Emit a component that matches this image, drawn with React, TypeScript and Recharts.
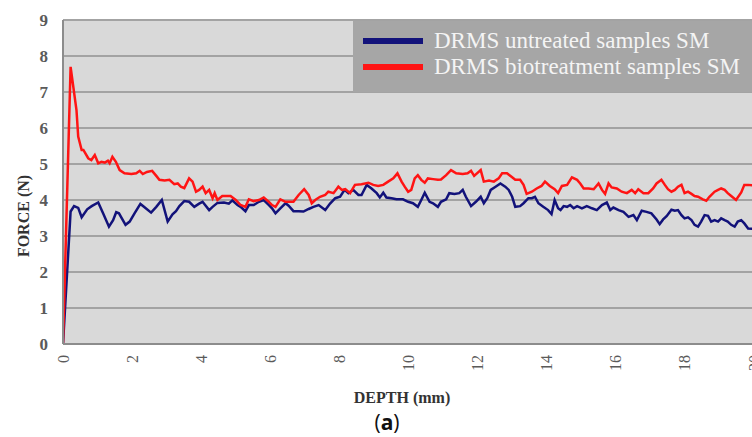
import { LineChart, Line, XAxis, YAxis, CartesianGrid } from 'recharts';

// series names (legend order)
const seriesNames = ['DRMS untreated samples SM', 'DRMS biotreatment samples SM'];
const seriesColors = ['#12127a', '#ff1414'];

const yTicks = [0, 1, 2, 3, 4, 5, 6, 7, 8, 9];
const xTicks = [0, 2, 4, 6, 8, 10, 12, 14, 16, 18, 20];

// untreated samples: depth (mm) / force (N)
const depthUntreated = [
  0, 0.22, 0.32, 0.44, 0.54, 0.7, 0.83, 1.02, 1.16, 1.33,
  1.45, 1.54, 1.62, 1.81, 1.93, 2.07, 2.24, 2.36, 2.55, 2.7,
  2.86, 3.03, 3.17, 3.27, 3.37, 3.51, 3.65, 3.8, 3.94, 4.04,
  4.23, 4.33, 4.47, 4.66, 4.8, 4.9, 5.05, 5.14, 5.28, 5.38,
  5.52, 5.67, 5.81, 5.96, 6.05, 6.15, 6.29, 6.44, 6.53, 6.67,
  6.82, 6.96, 7.11, 7.25, 7.4, 7.59, 7.73, 7.88, 8.02, 8.15,
  8.26, 8.4, 8.55, 8.64, 8.79, 8.93, 9.08, 9.17, 9.27, 9.36,
  9.51, 9.65, 9.84, 9.99, 10.13, 10.27, 10.37, 10.47, 10.61, 10.71,
  10.85, 10.94, 11.09, 11.18, 11.33, 11.47, 11.57, 11.66, 11.81, 11.95,
  12.09, 12.18, 12.28, 12.38, 12.52, 12.66, 12.8, 12.9, 13.0, 13.09,
  13.23, 13.33, 13.47, 13.57, 13.66, 13.76, 13.9, 14.04, 14.14, 14.23,
  14.33, 14.4, 14.49, 14.59, 14.68, 14.78, 14.88, 15.02, 15.16, 15.31,
  15.45, 15.6, 15.74, 15.84, 15.93, 16.08, 16.22, 16.37, 16.51, 16.61,
  16.75, 16.89, 17.03, 17.18, 17.27, 17.37, 17.47, 17.61, 17.71, 17.8,
  17.9, 17.99, 18.09, 18.19, 18.28, 18.38, 18.47, 18.57, 18.67, 18.76,
  18.86, 18.96, 19.05, 19.15, 19.24, 19.34, 19.44, 19.53, 19.63, 19.72,
  19.83, 20,
];
const forceUntreated = [
  0, 3.68, 3.83, 3.78, 3.52, 3.74, 3.83, 3.93, 3.63, 3.26,
  3.44, 3.66, 3.63, 3.31, 3.4, 3.63, 3.89, 3.8, 3.65, 3.81,
  4.0, 3.4, 3.6, 3.69, 3.83, 3.97, 3.95, 3.81, 3.9, 3.95,
  3.72, 3.81, 3.92, 3.93, 3.9, 3.99, 3.86, 3.81, 3.69, 3.86,
  3.86, 3.95, 4.0, 3.86, 3.77, 3.63, 3.77, 3.91, 3.84, 3.69,
  3.69, 3.68, 3.75, 3.81, 3.86, 3.72, 3.9, 4.05, 4.09, 4.28,
  4.19, 4.28, 4.14, 4.14, 4.42, 4.32, 4.19, 4.07, 4.2, 4.07,
  4.05, 4.02, 4.02, 3.95, 3.91, 3.81, 4.0, 4.2, 3.95, 3.91,
  3.81, 3.95, 4.02, 4.19, 4.17, 4.19, 4.28, 4.09, 3.83, 3.95,
  4.09, 3.91, 4.05, 4.28, 4.37, 4.46, 4.37, 4.28, 4.09, 3.81,
  3.83, 3.91, 4.05, 4.05, 4.09, 3.91, 3.81, 3.72, 3.61, 4.0,
  3.77, 3.72, 3.83, 3.81, 3.86, 3.77, 3.83, 3.77, 3.83, 3.77,
  3.72, 3.86, 3.93, 3.72, 3.79, 3.72, 3.67, 3.53, 3.58, 3.44,
  3.7, 3.67, 3.63, 3.46, 3.33, 3.46, 3.55, 3.73, 3.7, 3.72,
  3.58, 3.49, 3.52, 3.44, 3.31, 3.26, 3.4, 3.58, 3.56, 3.4,
  3.44, 3.4, 3.49, 3.44, 3.4, 3.31, 3.26, 3.4, 3.44, 3.35,
  3.21, 3.2,
];

// biotreatment samples: depth (mm) / force (N)
const depthBio = [
  0, 0.22, 0.39, 0.44, 0.54, 0.59, 0.73, 0.82, 0.92, 1.02,
  1.11, 1.21, 1.3, 1.35, 1.43, 1.53, 1.64, 1.78, 1.98, 2.12,
  2.22, 2.31, 2.43, 2.58, 2.7, 2.79, 2.94, 3.08, 3.22, 3.32,
  3.41, 3.51, 3.65, 3.75, 3.85, 3.94, 4.04, 4.13, 4.23, 4.33,
  4.39, 4.47, 4.61, 4.85, 5.0, 5.14, 5.28, 5.38, 5.52, 5.67,
  5.81, 5.96, 6.05, 6.15, 6.29, 6.44, 6.53, 6.67, 6.82, 6.98,
  7.11, 7.2, 7.3, 7.44, 7.59, 7.68, 7.83, 7.97, 8.07, 8.17,
  8.31, 8.45, 8.64, 8.84, 8.98, 9.12, 9.27, 9.41, 9.56, 9.68,
  9.8, 9.89, 9.99, 10.08, 10.18, 10.27, 10.37, 10.47, 10.56, 10.71,
  10.85, 10.94, 11.09, 11.23, 11.38, 11.57, 11.71, 11.81, 11.9, 12.09,
  12.18, 12.33, 12.47, 12.61, 12.71, 12.85, 13.0, 13.09, 13.23, 13.33,
  13.42, 13.57, 13.71, 13.85, 13.95, 14.09, 14.23, 14.33, 14.44, 14.59,
  14.73, 14.88, 14.97, 15.07, 15.21, 15.36, 15.5, 15.6, 15.69, 15.79,
  15.88, 16.03, 16.17, 16.32, 16.46, 16.56, 16.65, 16.8, 16.94, 17.08,
  17.18, 17.32, 17.42, 17.51, 17.61, 17.71, 17.8, 17.9, 17.99, 18.09,
  18.19, 18.28, 18.38, 18.52, 18.62, 18.71, 18.86, 18.96, 19.05, 19.15,
  19.24, 19.34, 19.48, 19.63, 19.72, 19.83, 20,
];
const forceBio = [
  0, 7.7, 6.5, 5.76, 5.39, 5.39, 5.16, 5.11, 5.25, 5.02,
  5.06, 5.04, 5.09, 5.02, 5.2, 5.06, 4.83, 4.74, 4.72, 4.74,
  4.81, 4.72, 4.78, 4.81, 4.67, 4.56, 4.54, 4.56, 4.44, 4.46,
  4.37, 4.33, 4.6, 4.51, 4.23, 4.28, 4.37, 4.19, 4.28, 4.05,
  4.19, 4.0, 4.11, 4.11, 4.0, 3.86, 3.81, 4.02, 3.97, 4.0,
  4.07, 3.95, 3.86, 3.81, 4.02, 3.95, 3.95, 3.95, 4.14, 4.3,
  4.14, 3.91, 4.0, 4.09, 4.14, 4.23, 4.19, 4.37, 4.28, 4.3,
  4.19, 4.42, 4.44, 4.48, 4.42, 4.39, 4.42, 4.51, 4.6, 4.74,
  4.51, 4.37, 4.23, 4.28, 4.6, 4.69, 4.56, 4.48, 4.6, 4.58,
  4.56, 4.57, 4.69, 4.83, 4.74, 4.72, 4.74, 4.81, 4.67, 4.83,
  4.51, 4.54, 4.51, 4.6, 4.74, 4.74, 4.63, 4.56, 4.56, 4.42,
  4.17, 4.23, 4.32, 4.39, 4.51, 4.39, 4.3, 4.19, 4.39, 4.42,
  4.63, 4.56, 4.46, 4.32, 4.32, 4.3, 4.46, 4.28, 4.17, 4.46,
  4.35, 4.32, 4.23, 4.19, 4.28, 4.19, 4.3, 4.19, 4.19, 4.32,
  4.46, 4.56, 4.42, 4.3, 4.23, 4.28, 4.37, 4.42, 4.19, 4.23,
  4.17, 4.11, 4.09, 4.02, 3.98, 4.09, 4.23, 4.28, 4.32, 4.28,
  4.19, 4.11, 4.0, 4.21, 4.42, 4.42, 4.4,
];

const untreatedData = depthUntreated.map((d, i) => ({ depth: d, force: forceUntreated[i] }));
const bioData = depthBio.map((d, i) => ({ depth: d, force: forceBio[i] }));

const serif = '"Liberation Serif", "Times New Roman", serif';

// x tick labels are rotated, reading bottom to top
const XTick = ({ x, y, payload }: any) => (
  <text
    x={x}
    y={y}
    transform={`rotate(-90 ${x} ${y})`}
    textAnchor="end"
    dominantBaseline="central"
    fontFamily={serif}
    fontSize={16}
    fill="#5a5a5a"
  >
    {payload.value}
  </text>
);

export default function App() {
  return (
    <div style={{ position: 'absolute', left: 0, top: 0, width: 752, height: 437, overflow: 'hidden', background: '#fff' }}>
      <LineChart width={766} height={437} margin={{ top: 20, right: 12, left: 0, bottom: 0 }}>
        <CartesianGrid vertical={false} fill="#d9d9d9" stroke="#a3a3a3" strokeWidth={2} />
        <XAxis
          type="number"
          dataKey="depth"
          domain={[0, 20]}
          ticks={xTicks}
          allowDataOverflow
          height={93}
          tickSize={0}
          tickMargin={11}
          tick={<XTick />}
          axisLine={{ stroke: '#8c8c8c', strokeWidth: 2 }}
          tickLine={false}
          label={{
            content: () => (
              <text x={402} y={403} textAnchor="middle" fontFamily={serif} fontWeight="bold" fontSize={16} fill="#333">
                DEPTH (mm)
              </text>
            ),
          }}
        />
        <YAxis
          type="number"
          domain={[0, 9]}
          ticks={yTicks}
          width={63}
          tickSize={0}
          tickMargin={15}
          tick={{ fontFamily: serif, fontSize: 17, fontWeight: 'bold', fill: '#5a5a5a' }}
          axisLine={{ stroke: '#8c8c8c', strokeWidth: 2 }}
          tickLine={false}
          label={{
            content: () => (
              <text
                x={23}
                y={216}
                transform="rotate(-90 23 216)"
                textAnchor="middle"
                dominantBaseline="central"
                fontFamily={serif}
                fontWeight="bold"
                fontSize={16}
                fill="#333"
              >
                FORCE (N)
              </text>
            ),
          }}
        />
        <Line
          data={untreatedData}
          dataKey="force"
          name={seriesNames[0]}
          type="linear"
          stroke={seriesColors[0]}
          strokeWidth={2.5}
          dot={false}
          isAnimationActive={false}
        />
        <Line
          data={bioData}
          dataKey="force"
          name={seriesNames[1]}
          type="linear"
          stroke={seriesColors[1]}
          strokeWidth={2.5}
          dot={false}
          isAnimationActive={false}
        />
      </LineChart>

      {/* legend box sits in the top right corner of the plot */}
      <div
        style={{
          position: 'absolute',
          left: 353,
          top: 21,
          width: 420,
          height: 71,
          background: '#a6a6a6',
          fontFamily: serif,
          fontSize: 23,
          color: '#f4f4f4',
        }}
      >
        {seriesNames.map((name, i) => (
          <div key={name} style={{ position: 'absolute', left: 10, top: 7 + i * 26, height: 26, display: 'flex', alignItems: 'center', whiteSpace: 'nowrap' }}>
            <div style={{ width: 60, height: 6, background: seriesColors[i], marginRight: 11 }} />
            <span>{name}</span>
          </div>
        ))}
      </div>

      <div
        style={{
          position: 'absolute',
          left: 387,
          top: 409,
          transform: 'translateX(-50%)',
          fontFamily: '"Open Sans", sans-serif',
          fontSize: 21,
          color: '#111',
          lineHeight: '26px',
        }}
      >
        (<b>a</b>)
      </div>
    </div>
  );
}
